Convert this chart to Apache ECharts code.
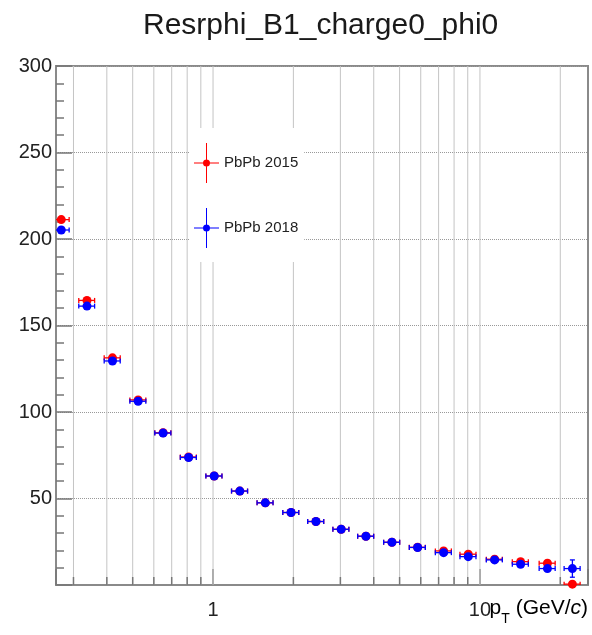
<!DOCTYPE html>
<html>
<head>
<meta charset="utf-8">
<script src="https://cdn.jsdelivr.net/npm/echarts@6/dist/echarts.min.js"></script>
<style>
html,body{margin:0;padding:0;background:#fff;}
#chart{width:592px;height:635px;}
</style>
</head>
<body>
<div id="chart"></div>
<script>
// ---- data ----
const ptCenter = [0.27, 0.337, 0.42, 0.524, 0.65, 0.81, 1.01, 1.26, 1.57, 1.96, 2.43, 3.02, 3.74, 4.68, 5.84, 7.31, 9.04, 11.35, 14.2, 17.9, 22.2];
const ptErr    = [0.019, 0.023, 0.029, 0.036, 0.045, 0.056, 0.07, 0.087, 0.108, 0.135, 0.168, 0.208, 0.258, 0.323, 0.403, 0.504, 0.624, 0.783, 0.98, 1.235, 1.53];
const res2015  = [211.2, 164.5, 131.3, 107.0, 88.0, 74.0, 63.0, 54.3, 47.5, 41.9, 36.7, 32.2, 28.2, 24.7, 21.8, 19.7, 17.8, 14.9, 13.5, 12.6, 0.5];
const err2015  = [0.8, 0.7, 0.6, 0.5, 0.5, 0.4, 0.4, 0.4, 0.4, 0.4, 0.4, 0.4, 0.4, 0.4, 0.5, 0.6, 0.7, 0.8, 1.0, 1.4, 0.5];
const res2018  = [205.2, 161.2, 129.5, 106.2, 87.8, 73.7, 63.0, 54.3, 47.5, 41.9, 36.7, 32.2, 28.2, 24.7, 21.7, 18.7, 16.4, 14.5, 12.0, 9.5, 9.5];
const err2018  = [0.8, 0.7, 0.6, 0.5, 0.5, 0.4, 0.4, 0.4, 0.4, 0.4, 0.4, 0.4, 0.4, 0.4, 0.5, 0.6, 0.7, 0.8, 1.0, 1.4, 5.0];
const seriesNames = ['PbPb 2015', 'PbPb 2018'];
const xGridValues  = [0.3, 0.4, 0.5, 0.6, 0.7, 0.8, 0.9, 1, 2, 3, 4, 5, 6, 7, 8, 9, 10, 20];
const xMinorTicks  = [0.3, 0.4, 0.5, 0.6, 0.7, 0.8, 0.9, 2, 3, 4, 5, 6, 7, 8, 9, 20];
const xTickLabels  = [1, 10];
const titleText = 'Resrphi_B1_charge0_phi0';

const FONT = '"Liberation Sans", Arial, Helvetica, sans-serif';
const RED = '#ff0000', BLUE = '#0000ff';

function errData(vals, errs) {
  return ptCenter.map((x, i) => [x, vals[i], ptErr[i], errs[i]]);
}
function ptData(vals) {
  return ptCenter.map((x, i) => [x, vals[i]]);
}
function errRender(color) {
  return function (params, api) {
    const x = api.value(0), y = api.value(1), xe = api.value(2), ye = api.value(3);
    const c = api.coord([x, y]);
    const l = api.coord([x - xe, y]);
    const r = api.coord([x + xe, y]);
    const t = api.coord([x, y + ye]);
    const b = api.coord([x, y - ye]);
    const cap = 2.5;
    const st = { stroke: color, lineWidth: 1.3 };
    const ch = [
      { type: 'line', shape: { x1: l[0], y1: c[1], x2: r[0], y2: c[1] }, style: st },
      { type: 'line', shape: { x1: l[0], y1: c[1] - cap, x2: l[0], y2: c[1] + cap }, style: st },
      { type: 'line', shape: { x1: r[0], y1: c[1] - cap, x2: r[0], y2: c[1] + cap }, style: st }
    ];
    if (b[1] - t[1] > 8) {
      ch.push({ type: 'line', shape: { x1: c[0], y1: t[1], x2: c[0], y2: b[1] }, style: st });
      ch.push({ type: 'line', shape: { x1: c[0] - cap, y1: t[1], x2: c[0] + cap, y2: t[1] }, style: st });
      ch.push({ type: 'line', shape: { x1: c[0] - cap, y1: b[1], x2: c[0] + cap, y2: b[1] }, style: st });
    }
    return { type: 'group', children: ch };
  };
}

const legendIcon = 'path://M12,0 L13,0 L13,40 L12,40 Z M0,19.4 L25,19.4 L25,20.6 L0,20.6 Z M16,20 A3.5,3.5 0 1,1 9,20 A3.5,3.5 0 1,1 16,20 Z';

const chart = echarts.init(document.getElementById('chart'), null, { renderer: 'canvas' });
chart.setOption({
  animation: false,
  backgroundColor: '#fff',
  title: {
    text: titleText,
    left: 143, top: 11, padding: 0,
    textStyle: { fontFamily: FONT, fontSize: 30, fontWeight: 'normal', color: '#1a1a1a' }
  },
  grid: {
    left: 56, right: 4, top: 66, bottom: 50,
    show: true, borderColor: '#8a8a8a', borderWidth: 2, backgroundColor: 'transparent'
  },
  legend: {
    data: seriesNames.map(n => ({ name: n, icon: legendIcon })),
    orient: 'vertical',
    left: 190, top: 128,
    padding: [15, 6, 14, 4],
    itemWidth: 25, itemHeight: 40, itemGap: 25,
    backgroundColor: '#ffffff',
    z: 10,
    itemStyle: { opacity: 1 },
    textStyle: { fontFamily: FONT, fontSize: 15, color: '#222' }
  },
  xAxis: {
    type: 'log', logBase: 10, min: 0.258, max: 25.4,
    axisLine: { show: true, lineStyle: { color: '#8a8a8a', width: 2 } },
    axisTick: { show: true, inside: true, length: 16, lineStyle: { color: '#777', width: 1.5 } },
    axisLabel: {
      margin: 15, fontFamily: FONT, fontSize: 20, color: '#222',
      formatter: v => {
        for (const t of xTickLabels) if (Math.abs(v - t) < 1e-6 * t) return String(t);
        return '';
      }
    },
    splitLine: { show: false }
  },
  yAxis: {
    type: 'value', min: 0, max: 300, interval: 50,
    axisLine: { show: true, lineStyle: { color: '#8a8a8a', width: 2 } },
    axisTick: { show: true, inside: true, length: 16, lineStyle: { color: '#777', width: 1.5 } },
    minorTick: { show: true, splitNumber: 5, length: 8, lineStyle: { color: '#777', width: 1.5 } },
    axisLabel: {
      margin: 4, fontFamily: FONT, fontSize: 20, color: '#222',
      formatter: v => (v === 0 ? '' : String(v))
    },
    splitLine: { show: true, lineStyle: { color: '#999', type: 'dotted', width: 1 } }
  },
  graphic: [
    {
      type: 'text', right: 4, top: 598, z: 10,
      style: {
        text: '{p|p}{s|T}{n| (GeV/}{i|c}{n|)}',
        rich: {
          p: { fontFamily: FONT, fontSize: 21, color: '#222', lineHeight: 28, verticalAlign: 'top' },
          s: { fontFamily: FONT, fontSize: 14, color: '#222', lineHeight: 28, verticalAlign: 'bottom' },
          n: { fontFamily: FONT, fontSize: 21, color: '#222', lineHeight: 28, verticalAlign: 'top' },
          i: { fontFamily: FONT, fontSize: 21, fontStyle: 'italic', color: '#222', lineHeight: 28, verticalAlign: 'top' }
        }
      }
    }
  ],
  series: [
    {
      type: 'custom', z: 1, silent: true, clip: true,
      data: xGridValues.map(v => [v, 0]),
      renderItem: function (params, api) {
        const p0 = api.coord([api.value(0), 0]);
        const p1 = api.coord([api.value(0), 300]);
        return { type: 'line', shape: { x1: p0[0], y1: p0[1], x2: p1[0], y2: p1[1] }, style: { stroke: '#c4c4c4', lineWidth: 1 } };
      }
    },
    {
      type: 'custom', z: 2, silent: true, clip: true,
      data: xMinorTicks.map(v => [v, 0]),
      renderItem: function (params, api) {
        const p0 = api.coord([api.value(0), 0]);
        return { type: 'line', shape: { x1: p0[0], y1: p0[1], x2: p0[0], y2: p0[1] - 8 }, style: { stroke: '#777', lineWidth: 1.5 } };
      }
    },
    {
      type: 'custom', name: seriesNames[0] + ' err', z: 3, silent: true, clip: true,
      data: errData(res2015, err2015), encode: { x: 0, y: 1 },
      renderItem: errRender(RED)
    },
    {
      type: 'scatter', name: seriesNames[0], z: 4, clip: true,
      data: ptData(res2015), symbol: 'circle', symbolSize: 9,
      itemStyle: { color: RED, opacity: 1 }
    },
    {
      type: 'custom', name: seriesNames[1] + ' err', z: 5, silent: true, clip: true,
      data: errData(res2018, err2018), encode: { x: 0, y: 1 },
      renderItem: errRender(BLUE)
    },
    {
      type: 'scatter', name: seriesNames[1], z: 6, clip: true,
      data: ptData(res2018), symbol: 'circle', symbolSize: 9,
      itemStyle: { color: BLUE, opacity: 1 }
    }
  ]
});
</script>
</body>
</html>
